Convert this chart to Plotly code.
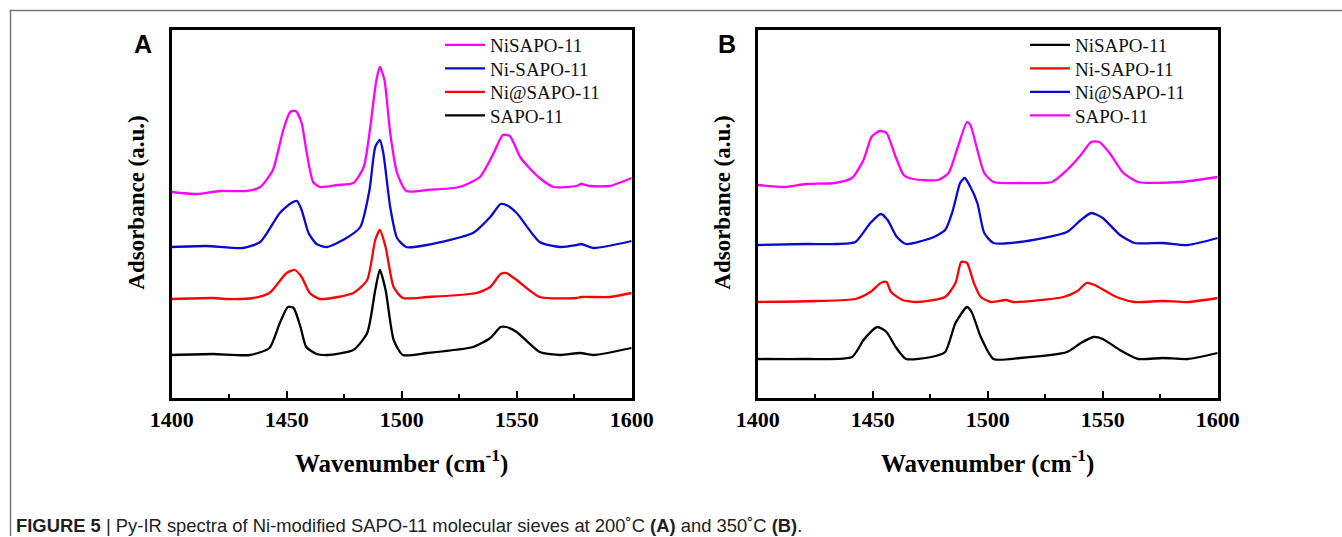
import plotly.graph_objects as go

W, H = 1342, 537

# ---------------- data (panel A, 200 C) ----------------
a_nisapo_x = [1400, 1411, 1421, 1432.5, 1438.5, 1444, 1448.5, 1451.5, 1454, 1456.5, 1458.5, 1461.5, 1464.5, 1472, 1479,
              1483.5, 1486, 1489, 1490.5, 1492.5, 1495, 1498, 1502, 1511, 1525, 1534, 1540, 1544, 1547, 1551.5, 1555.5,
              1560, 1566, 1576, 1578, 1582, 1590.5, 1600]
a_nisapo_y = [2.06, 2.04, 2.07, 2.07, 2.11, 2.28, 2.68, 2.86, 2.87, 2.75, 2.48, 2.16, 2.11, 2.13, 2.15,
              2.31, 2.65, 3.18, 3.31, 3.18, 2.65, 2.25, 2.07, 2.08, 2.11, 2.21, 2.45, 2.63, 2.62, 2.41, 2.30,
              2.20, 2.11, 2.12, 2.14, 2.12, 2.12, 2.20]

a_ni_dash_x = [1400, 1415, 1431, 1438.5, 1447, 1452, 1454.5, 1456.5, 1459.5, 1463, 1467.5, 1476, 1482, 1486, 1488.5,
               1490.5, 1492, 1495, 1498, 1502, 1511, 1531, 1538.5, 1543, 1545.5, 1550, 1560, 1569, 1576, 1578,
               1583.5, 1600]
a_ni_dash_y = [1.51, 1.52, 1.50, 1.56, 1.85, 1.95, 1.97, 1.88, 1.65, 1.54, 1.51, 1.60, 1.71, 2.08, 2.51,
               2.58, 2.45, 1.91, 1.60, 1.51, 1.53, 1.65, 1.81, 1.94, 1.93, 1.85, 1.56, 1.51, 1.53, 1.54,
               1.50, 1.57]

a_ni_at_x = [1400, 1418, 1424, 1435.5, 1442.5, 1450, 1453.5, 1456.5, 1460, 1464.5, 1479, 1485, 1488.5, 1490.5,
             1493, 1496.5, 1500.5, 1511, 1532.5, 1538.5, 1543, 1545.5, 1550, 1560, 1576, 1578, 1590.5, 1600]
a_ni_at_y = [0.99, 1.00, 0.99, 1.00, 1.05, 1.25, 1.28, 1.21, 1.05, 0.99, 1.05, 1.18, 1.58, 1.68,
             1.51, 1.11, 1.00, 1.01, 1.05, 1.11, 1.24, 1.25, 1.18, 1.01, 1.00, 1.01, 1.01, 1.05]

a_sapo_x = [1400, 1418, 1434, 1442.5, 1447, 1450.5, 1453, 1456, 1458.5, 1463, 1467.5, 1479, 1485, 1488.5, 1490.5,
            1493, 1496.5, 1500.5, 1511, 1531, 1538.5, 1543, 1545.5, 1550, 1560, 1569, 1577.5, 1583.5, 1600]
a_sapo_y = [0.43, 0.44, 0.43, 0.50, 0.75, 0.91, 0.90, 0.71, 0.51, 0.44, 0.43, 0.48, 0.65, 1.08, 1.28,
            1.08, 0.58, 0.43, 0.45, 0.51, 0.60, 0.71, 0.71, 0.66, 0.46, 0.43, 0.45, 0.43, 0.50]

# ---------------- data (panel B, 350 C) ----------------
b_sapo_x = [1400, 1411.5, 1421, 1433.5, 1441, 1446, 1449.5, 1453, 1456, 1460, 1463.5, 1467.5, 1478.5, 1483, 1487,
            1491, 1492.5, 1495.5, 1498.5, 1502.5, 1514, 1528, 1534.5, 1540.5, 1545, 1548.5, 1553, 1559, 1565.5,
            1584, 1600]
b_sapo_y = [2.13, 2.11, 2.14, 2.15, 2.20, 2.38, 2.61, 2.67, 2.65, 2.41, 2.23, 2.19, 2.18, 2.25, 2.51,
            2.76, 2.73, 2.48, 2.25, 2.16, 2.15, 2.16, 2.28, 2.43, 2.56, 2.56, 2.45, 2.25, 2.16,
            2.16, 2.21]

b_ni_at_x = [1400, 1421, 1435, 1442.5, 1449, 1453.5, 1456.5, 1460.5, 1464.5, 1475.5, 1481.5, 1484.5, 1486, 1488,
             1490, 1492.5, 1495.5, 1498.5, 1502.5, 1514, 1534.5, 1540.5, 1545, 1550, 1557.5, 1564, 1576, 1587, 1600]
b_ni_at_y = [1.53, 1.54, 1.54, 1.56, 1.75, 1.84, 1.78, 1.61, 1.54, 1.60, 1.68, 1.85, 1.98, 2.15,
             2.20, 2.11, 1.95, 1.65, 1.55, 1.56, 1.66, 1.78, 1.85, 1.80, 1.63, 1.55, 1.55, 1.53, 1.60]

b_ni_dash_x = [1400, 1425.5, 1442.5, 1449, 1453.5, 1456, 1458, 1463, 1469, 1481.5, 1486, 1488.5, 1491, 1494, 1497,
               1501.5, 1508, 1511, 1533, 1539, 1543, 1546.5, 1556, 1564, 1576, 1587, 1600]
b_ni_dash_y = [0.96, 0.97, 0.99, 1.06, 1.15, 1.16, 1.06, 0.98, 0.96, 1.01, 1.15, 1.36, 1.35, 1.15, 1.01,
               0.96, 0.98, 0.96, 1.01, 1.07, 1.15, 1.13, 1.01, 0.96, 0.97, 0.96, 1.00]

b_nisapo_x = [1400, 1421, 1441, 1446, 1452, 1456, 1460, 1464.5, 1475.5, 1481.5, 1486, 1491, 1493, 1497, 1502.5,
              1514, 1534.5, 1540.5, 1546, 1550, 1557.5, 1565.5, 1576, 1587, 1600]
b_nisapo_y = [0.39, 0.39, 0.41, 0.58, 0.71, 0.66, 0.51, 0.39, 0.41, 0.46, 0.75, 0.91, 0.86, 0.61, 0.39,
              0.40, 0.46, 0.55, 0.61, 0.59, 0.48, 0.39, 0.40, 0.39, 0.45]

x_ticks = [1400, 1450, 1500, 1550, 1600]
x_minor_ticks = [1425, 1475, 1525, 1575]
legend_names = ["NiSAPO-11", "Ni-SAPO-11", "Ni@SAPO-11", "SAPO-11"]

MAGENTA, BLUE, RED, BLACK = "#FF00FF", "#0A0ACC", "#FF0000", "#000000"

# ---------------- pixel helpers ----------------
def px(x):
    return x / W

def py(y):
    return 1 - y / H

A_L, A_R, B_L, B_R, P_T, P_B = 171.7, 631.7, 757.7, 1217.7, 30, 398
LEG_ROWS = [45, 68.5, 92, 115.5]

fig = go.Figure()

series_a = [(a_nisapo_x, a_nisapo_y, legend_names[0], MAGENTA),
            (a_ni_dash_x, a_ni_dash_y, legend_names[1], BLUE),
            (a_ni_at_x, a_ni_at_y, legend_names[2], RED),
            (a_sapo_x, a_sapo_y, legend_names[3], BLACK)]
series_b = [(b_nisapo_x, b_nisapo_y, legend_names[0], BLACK),
            (b_ni_dash_x, b_ni_dash_y, legend_names[1], RED),
            (b_ni_at_x, b_ni_at_y, legend_names[2], BLUE),
            (b_sapo_x, b_sapo_y, legend_names[3], MAGENTA)]

serif = "Times New Roman, Liberation Serif, serif"
sans = "Arial, Liberation Sans, sans-serif"

legcommon = dict(font=dict(family=serif, size=19, color="#111"), bgcolor="rgba(0,0,0,0)",
                 borderwidth=0, xanchor="left", yanchor="middle", itemwidth=40)
legends = {}
k = 1
for panel, series, leg_x in [("a", series_a, 440), ("b", series_b, 1025)]:
    xa, ya = ("x", "y") if panel == "a" else ("x2", "y2")
    for i, (xs, ys, nm, col) in enumerate(series):
        lid = "legend" if k == 1 else "legend%d" % k
        fig.add_trace(go.Scatter(x=xs, y=ys, name=nm, mode="lines",
                                 line=dict(color=col, width=2.3, shape="spline", smoothing=0.6),
                                 xaxis=xa, yaxis=ya, legend=lid))
        legends[lid] = dict(x=px(leg_x), y=py(LEG_ROWS[i]), **legcommon)
        k += 1

xcommon = dict(range=[1400, 1600], tickvals=x_ticks, ticks="inside", ticklen=7, tickwidth=2,
               tickcolor="black", showline=True, linewidth=2.5, linecolor="black", mirror=True,
               showgrid=False, zeroline=False, automargin=False,
               tickfont=dict(family=serif, size=22, color="black", weight="bold"),
               minor=dict(tickvals=x_minor_ticks, ticks="inside", ticklen=4, tickwidth=2,
                          tickcolor="black", showgrid=False),
               ticklabelstandoff=0)
ycommon = dict(range=[0, 3.68], showticklabels=False, ticks="", showline=True, linewidth=2.5,
               linecolor="black", mirror=True, showgrid=False, zeroline=False, automargin=False,
               domain=[py(P_B), py(P_T)])

fig.update_layout(
    width=W, height=H, margin=dict(l=0, r=0, t=0, b=0, pad=0, autoexpand=False),
    paper_bgcolor="white", plot_bgcolor="white", showlegend=True,
    xaxis=dict(domain=[px(A_L), px(A_R)], anchor="y", **xcommon),
    yaxis=dict(anchor="x", **ycommon),
    xaxis2=dict(domain=[px(B_L), px(B_R)], anchor="y2", **xcommon),
    yaxis2=dict(anchor="x2", **ycommon),
    **legends,
)

ann = []
for left, right, lab, labx in [(A_L, A_R, "A", 143), (B_L, B_R, "B", 727)]:
    cx = (left + right) / 2
    ann.append(dict(x=px(cx), y=py(461), xref="paper", yref="paper", showarrow=False,
                    text="<b>Wavenumber (cm<sup>-1</sup>)</b>", xanchor="center", yanchor="middle",
                    font=dict(family=serif, size=25, color="black")))
    ann.append(dict(x=px(left - 36), y=py(203), xref="paper", yref="paper", showarrow=False,
                    text="<b>Adsorbance (a.u.)</b>", textangle=-90, xanchor="center", yanchor="middle",
                    font=dict(family=serif, size=23, color="black")))
    ann.append(dict(x=px(labx), y=py(44), xref="paper", yref="paper", showarrow=False,
                    text="<b>" + lab + "</b>", xanchor="center", yanchor="middle",
                    font=dict(family=sans, size=25, color="black")))
ann.append(dict(x=px(14), y=py(525), xref="paper", yref="paper", showarrow=False, xanchor="left",
                yanchor="middle",
                text="<b>FIGURE 5</b> | Py-IR spectra of Ni-modified SAPO-11 molecular sieves at 200˚C <b>(A)</b> and 350˚C <b>(B)</b>.",
                font=dict(family=sans, size=18.4, color="#222")))
fig.update_layout(annotations=ann)

fig.update_layout(shapes=[
    dict(type="line", xref="paper", yref="paper", x0=px(9.5), x1=1, y0=py(10.5), y1=py(10.5),
         line=dict(color="#777", width=1.5)),
    dict(type="line", xref="paper", yref="paper", x0=px(10.5), x1=px(10.5), y0=py(10.5), y1=py(536),
         line=dict(color="#777", width=1.5)),
])

fig.write_html("out.html", config={"displayModeBar": False},
               post_script="document.body.style.margin='0px';document.body.style.overflow='hidden';")
